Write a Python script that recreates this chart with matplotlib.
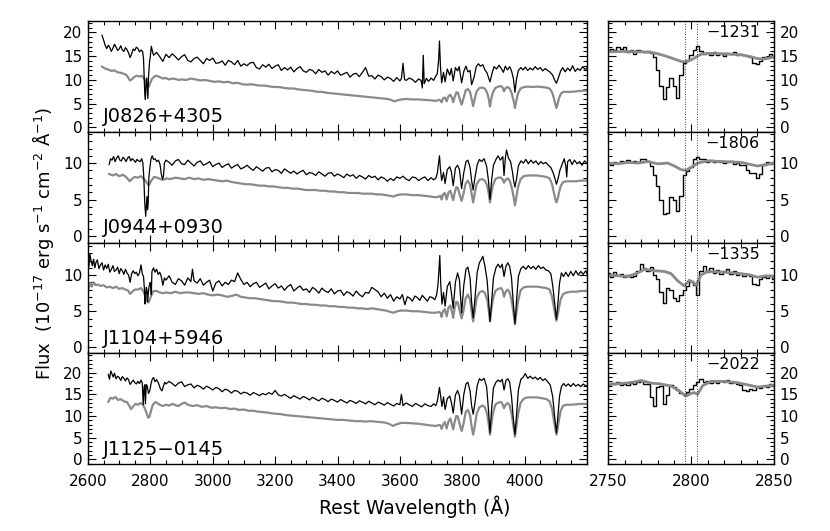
import numpy as np
import matplotlib
matplotlib.use("Agg")
import matplotlib.pyplot as plt
from matplotlib.ticker import MultipleLocator

# ---- object names and Mg II outflow velocities (km/s) ----
names = ["J0826+4305", "J0944+0930", "J1104+5946", "J1125\u22120145"]
velocities = ["\u22121231", "\u22121806", "\u22121335", "\u22122022"]
mg2_lines = [2796.35, 2803.53]

# ---- full spectra (wavelength, flux): observed = black, model = gray ----
obs1 = [(2645,19.4),(2650,18.4),(2655,17.3),(2660,16.6),(2665,17.3),(2670,16.8),(2675,16.0),(2680,16.7),(2685,17.5),(2690,16.9),(2695,16.2),(2700,16.5),(2705,17.2),(2710,16.3),(2715,16.0),(2720,16.8),(2725,16.4),(2730,15.7),(2735,14.7),(2740,15.5),(2745,16.5),(2750,16.2),(2755,16.9),(2760,16.6),(2765,15.9),(2770,16.3),(2775,16.0),(2778,14.5),(2780,11.0),(2782,7.2),(2784,5.9),(2786,9.0),(2788,10.4),(2790,8.2),(2792,6.1),(2794,10.5),(2797,13.6),(2800,15.1),(2803,17.1),(2806,16.2),(2810,15.2),
        (2820,15.8),(2830,14.9),(2840,13.9),(2850,15.4),(2860,14.7),(2870,15.5),(2880,14.9),(2890,14.2),(2900,14.9),(2910,15.3),(2920,14.1),(2930,13.8),(2940,14.5),(2950,14.8),(2960,14.1),(2970,13.4),(2980,14.5),(2990,14.1),(3000,14.6),(3010,13.5),(3020,13.6),(3030,14.0),(3040,13.1),(3050,14.1),(3060,13.8),(3070,13.2),(3080,14.1),(3090,12.9),(3100,13.4),(3110,13.0),(3120,13.6),(3130,13.7),(3140,12.6),(3150,12.3),(3160,13.2),(3170,12.7),(3180,13.3),(3190,12.4),(3200,12.9),(3210,13.2),(3220,12.0),(3230,12.6),(3240,12.1),(3250,12.7),(3260,11.7),(3270,12.4),(3280,12.8),(3290,11.9),(3300,11.6),(3310,12.2),(3320,12.0),(3330,11.3),(3340,12.2),(3350,11.6),(3360,11.9),(3370,11.0),(3380,11.8),(3390,11.3),(3400,11.9),(3410,11.0),(3420,11.3),(3430,11.6),(3440,10.6),(3450,11.2),(3460,11.4),(3470,10.7),(3480,11.6),(3490,12.6),(3500,10.8),(3510,10.9),(3520,10.2),(3530,11.0),(3540,10.7),(3550,10.0),(3560,10.6),(3570,10.3),(3580,9.7),(3590,10.5),(3600,9.8),(3605,10.3),(3610,13.5),(3615,10.1),(3620,9.9),(3630,10.4),(3640,10.1),(3650,9.5),(3660,10.2),(3668,9.9),(3672,8.3),(3675,15.2),(3678,9.2),(3685,10.3),(3692,9.7),(3700,10.4),(3708,9.9),(3715,10.8),(3720,11.3),(3724,14.0),(3727,18.2),(3730,13.0),(3734,9.4),(3740,11.6),(3745,9.6),(3752,12.3),(3760,11.0),(3765,12.4),(3771,9.8),(3778,12.6),(3785,11.9),(3790,12.8),(3798,9.4),(3805,11.8),(3812,12.9),(3818,11.7),(3825,12.0),(3830,9.0),(3838,10.6),(3845,12.8),(3852,13.4),(3858,12.9),(3866,13.2),(3872,12.2),(3880,11.4),(3885,10.3),(3889,9.6),(3895,11.3),(3902,12.8),(3910,12.3),(3918,13.1),(3925,12.4),(3932,11.6),(3938,12.9),(3945,12.1),(3952,12.8),(3958,11.9),(3964,10.3),(3969,7.4),(3974,10.2),(3980,12.0),(3988,12.6),(3995,12.1),(4002,12.7),(4010,12.0),(4018,12.5),(4026,12.1),(4034,12.8),(4042,12.2),(4050,12.6),(4058,11.9),(4066,12.4),(4074,12.0),(4082,11.6),(4090,11.0),(4096,10.0),(4102,9.3),(4108,10.4),(4115,11.8),(4122,12.6),(4130,11.7),(4138,12.5),(4146,11.9),(4154,13.0),(4162,11.8),(4170,12.4),(4178,12.0),(4186,12.8),(4194,12.2),(4200,12.5)]
mod1 = [(2645,12.8),(2655,12.4),(2665,12.2),(2675,11.9),(2685,12.0),(2695,11.6),(2705,11.5),(2715,11.3),(2722,11.1),(2728,10.6),(2734,9.9),(2740,10.1),(2748,10.6),(2756,10.9),(2765,10.7),(2772,10.9),(2780,10.3),(2786,9.4),(2791,8.7),(2795,8.6),(2799,9.3),(2805,10.2),(2812,10.7),(2820,10.9),(2830,10.6),(2840,10.3),(2850,10.4),(2860,10.1),(2870,10.3),(2880,10.2),(2890,10.0),(2900,10.1),(2915,10.0),(2930,10.3),(2945,10.1),(2960,9.9),(2975,10.0),(2990,9.8),(3005,9.6),(3020,9.7),(3035,9.5),(3050,9.6),(3065,9.3),(3080,9.4),(3095,9.1),(3110,9.0),(3125,9.1),(3140,8.9),(3155,8.8),(3170,8.8),(3185,8.6),(3200,8.5),(3215,8.5),(3230,8.3),(3245,8.2),(3260,8.2),(3275,8.0),(3290,7.9),(3305,7.8),(3320,7.7),(3335,7.5),(3350,7.5),(3365,7.3),(3380,7.2),(3395,7.1),(3410,7.0),(3425,6.9),(3440,6.8),(3455,6.7),(3470,6.6),(3485,6.5),(3500,6.4),(3515,6.3),(3530,6.2),(3545,6.1),(3560,6.0),(3572,5.8),(3582,5.5),(3592,5.7),(3605,5.9),(3620,6.0),(3640,5.9),(3660,5.9),(3680,5.8),(3700,5.7),(3715,5.6),(3725,5.8),
        (3730,5.7),(3734,5.3),(3738,6.1),(3744,6.3),(3750,5.5),(3756,6.6),(3762,6.9),(3767,6.2),(3771,5.3),(3775,6.3),(3781,7.4),(3786,7.3),(3792,6.0),(3798,4.8),(3804,6.1),(3811,7.8),(3818,8.1),(3825,7.5),(3830,6.0),(3835,4.5),(3840,6.0),(3846,7.6),(3855,8.3),(3864,8.4),(3872,8.2),(3880,7.3),(3885,6.0),(3889,4.4),(3893,6.0),(3898,7.3),(3906,8.3),(3915,8.6),(3925,8.7),(3930,8.3),(3934,7.6),(3939,8.3),(3946,8.5),(3952,8.2),(3959,7.1),(3964,5.8),(3969,4.1),(3974,5.8),(3979,7.2),(3987,8.2),(3997,8.5),(4010,8.6),(4025,8.5),(4040,8.6),(4055,8.5),(4070,8.4),(4080,8.2),(4088,7.4),(4094,6.1),(4098,5.0),(4102,4.1),(4106,5.0),(4110,6.1),(4116,7.1),(4124,7.5),(4135,7.5),(4150,7.5),(4165,7.6),(4180,7.7),(4200,7.8)]

obs2 = [(2668,9.8),(2672,10.6),(2677,10.4),(2682,10.9),(2687,10.2),(2692,10.7),(2697,11.0),(2702,10.4),(2707,10.3),(2712,10.8),(2717,10.6),(2722,10.2),(2727,10.7),(2732,10.9),(2737,10.3),(2742,10.6),(2747,10.4),(2752,10.1),(2757,10.5),(2762,10.3),(2767,10.2),(2772,10.6),(2776,10.0),(2779,8.0),(2782,4.5),(2785,2.7),(2787,4.0),(2789,5.4),(2791,3.6),(2793,4.5),(2795,8.0),(2798,9.2),(2802,10.6),(2806,11.0),(2810,10.5),(2815,10.6),(2820,10.2),(2826,10.4),(2831,9.8),(2835,8.5),(2839,7.8),(2842,8.2),(2845,10.0),
        (2850,10.4),(2860,10.1),(2870,9.7),(2880,10.3),(2890,10.5),(2900,9.9),(2910,9.8),(2920,10.4),(2930,10.0),(2940,9.6),(2950,10.1),(2960,10.3),(2970,9.7),(2980,9.9),(2990,10.2),(3000,9.5),(3010,9.8),(3020,10.0),(3030,9.4),(3040,9.7),(3050,9.9),(3060,9.3),(3070,9.6),(3080,9.8),(3090,9.2),(3100,9.4),(3110,9.7),(3120,9.3),(3130,9.0),(3140,9.5),(3150,9.2),(3160,8.9),(3170,9.3),(3180,9.4),(3190,8.8),(3200,9.1),(3210,9.0),(3220,8.6),(3230,9.2),(3240,8.9),(3250,8.6),(3260,8.9),(3270,8.5),(3280,8.8),(3290,9.0),(3300,8.4),(3310,8.7),(3320,8.6),(3330,8.3),(3340,8.8),(3350,8.5),(3360,8.2),(3370,8.6),(3380,8.7),(3390,8.2),(3400,8.5),(3410,8.3),(3420,8.0),(3430,8.5),(3440,8.2),(3450,8.4),(3460,7.9),(3470,8.3),(3480,8.1),(3490,7.8),(3500,8.3),(3510,8.0),(3520,8.2),(3530,7.7),(3540,8.1),(3550,7.9),(3560,7.5),(3570,7.9),(3580,7.6),(3590,8.1),(3600,7.9),(3610,8.2),(3620,7.8),(3630,7.6),(3640,8.1),(3650,8.0),(3660,7.6),(3670,7.9),(3680,8.1),(3690,7.6),(3700,8.0),(3708,7.7),(3715,7.9),(3720,8.6),(3724,10.0),(3727,11.0),(3730,9.2),(3734,7.6),(3740,8.7),(3745,7.2),(3752,9.1),(3760,9.5),(3765,8.8),(3771,6.9),(3778,9.3),(3785,9.7),(3791,9.1),(3798,6.5),(3805,8.7),(3812,10.2),(3818,10.4),(3825,9.4),(3830,7.6),(3835,6.3),(3840,7.8),(3848,9.8),(3855,10.5),(3862,10.2),(3870,10.6),(3878,9.6),(3884,7.6),(3889,5.0),(3894,7.6),(3900,9.7),(3908,10.5),(3915,11.0),(3922,10.4),(3930,10.9),(3934,8.3),(3938,10.6),(3942,11.8),(3948,10.7),(3955,10.2),(3961,8.8),(3965,7.5),(3969,6.7),(3974,7.8),(3980,9.6),(3988,10.3),(3996,10.0),(4004,10.5),(4012,9.9),(4020,10.4),(4028,10.0),(4036,10.3),(4044,9.8),(4052,10.2),(4060,9.9),(4068,10.1),(4076,9.7),(4084,9.4),(4092,8.6),(4097,7.9),(4102,7.1),(4107,7.8),(4113,9.0),(4120,9.8),(4127,10.6),(4132,9.6),(4135,8.1),(4138,10.2),(4145,10.5),(4152,9.8),(4160,10.4),(4168,9.9),(4176,10.2),(4184,9.7),(4192,10.3),(4200,10.0)]
mod2 = [(2668,8.5),(2680,8.3),(2690,8.5),(2700,8.2),(2712,8.4),(2722,8.1),(2728,7.8),(2734,7.5),(2740,7.8),(2750,8.1),(2760,8.0),(2770,8.2),(2780,7.8),(2787,7.4),(2793,7.0),(2797,7.1),(2803,7.6),(2812,8.1),(2822,8.0),(2832,7.8),(2842,7.7),(2852,7.9),(2865,7.8),(2880,8.0),(2895,7.9),(2910,7.8),(2925,8.0),(2940,7.8),(2955,7.9),(2970,7.7),(2985,7.8),(3000,7.7),(3015,7.6),(3030,7.5),(3045,7.6),(3060,7.4),(3075,7.3),(3090,7.2),(3105,7.1),(3120,7.1),(3135,7.0),(3150,6.9),(3165,6.9),(3180,6.8),(3195,6.8),(3210,6.7),(3225,6.6),(3240,6.6),(3255,6.5),(3270,6.5),(3285,6.4),(3300,6.3),(3315,6.3),(3330,6.3),(3345,6.2),(3360,6.2),(3375,6.1),(3390,6.1),(3405,6.0),(3420,6.0),(3435,5.9),(3450,5.9),(3465,5.9),(3480,5.8),(3495,5.8),(3510,5.8),(3525,5.7),(3540,5.7),(3555,5.6),(3570,5.5),(3580,5.4),(3590,5.6),(3605,5.7),(3620,5.7),(3640,5.6),(3660,5.6),(3680,5.5),(3700,5.4),(3715,5.3),(3725,5.4),
        (3730,5.5),(3734,5.0),(3738,5.7),(3744,5.9),(3750,5.0),(3756,6.0),(3762,6.2),(3767,5.5),(3771,4.9),(3775,5.8),(3781,6.7),(3786,6.6),(3792,5.6),(3798,4.8),(3804,5.8),(3811,7.2),(3818,7.6),(3825,7.0),(3830,5.8),(3835,4.6),(3840,5.8),(3846,7.1),(3855,7.7),(3864,7.8),(3872,7.6),(3880,6.9),(3885,5.8),(3889,4.6),(3893,5.8),(3898,6.9),(3906,7.8),(3915,8.0),(3925,8.0),(3930,7.7),(3934,7.3),(3939,7.7),(3946,7.9),(3952,7.6),(3959,6.6),(3964,5.5),(3969,4.2),(3974,5.5),(3979,6.7),(3987,7.8),(3997,8.2),(4010,8.3),(4025,8.3),(4040,8.3),(4055,8.2),(4070,8.1),(4080,7.9),(4088,7.1),(4094,5.9),(4098,5.1),(4102,4.6),(4106,5.1),(4110,5.9),(4116,6.9),(4124,7.4),(4135,7.5),(4150,7.5),(4165,7.5),(4180,7.6),(4200,7.6)]

obs3 = [(2600,12.6),(2603,11.2),(2606,12.9),(2610,11.9),(2614,11.3),(2618,12.2),(2622,11.0),(2626,11.8),(2630,12.1),(2635,10.9),(2640,11.4),(2645,11.7),(2650,10.7),(2655,11.4),(2660,10.9),(2665,11.5),(2670,10.4),(2675,10.8),(2680,11.3),(2685,10.5),(2690,10.7),(2695,11.1),(2700,10.2),(2705,10.9),(2710,10.6),(2715,10.1),(2720,10.8),(2725,10.3),(2730,10.0),(2735,9.0),(2740,10.2),(2745,10.6),(2750,10.2),(2755,10.4),(2760,9.9),(2765,10.3),(2770,11.4),(2774,10.2),(2778,9.8),(2781,8.0),(2783,6.0),(2785,7.4),(2787,8.3),(2789,8.0),(2791,6.3),(2793,7.3),(2796,8.5),(2799,9.0),(2801,8.6),(2803,7.3),(2805,10.5),(2810,11.0),(2815,10.4),(2820,10.8),(2825,10.1),(2830,10.4),(2835,9.8),(2840,8.6),(2845,9.6),
        (2850,9.3),(2860,9.9),(2870,9.0),(2880,8.7),(2890,9.5),(2900,9.2),(2910,8.6),(2920,9.6),(2930,9.1),(2935,10.8),(2940,9.2),(2950,8.9),(2960,9.5),(2970,8.6),(2980,9.0),(2990,9.3),(3000,7.8),(3010,8.9),(3020,9.2),(3030,8.5),(3040,9.0),(3050,8.7),(3060,9.3),(3070,9.1),(3080,10.3),(3090,9.4),(3100,8.7),(3110,9.0),(3120,8.4),(3130,8.8),(3140,9.0),(3150,8.3),(3160,8.6),(3170,8.9),(3180,8.1),(3190,8.5),(3200,8.8),(3210,8.2),(3220,8.5),(3230,7.9),(3240,8.4),(3250,8.7),(3260,7.8),(3270,8.2),(3280,8.5),(3290,7.9),(3300,8.1),(3310,7.6),(3320,8.3),(3330,8.0),(3340,7.5),(3350,8.2),(3360,7.8),(3370,7.6),(3380,8.1),(3390,7.4),(3400,7.8),(3410,7.9),(3420,7.2),(3430,7.7),(3440,7.5),(3450,7.1),(3460,7.8),(3470,7.3),(3480,7.0),(3490,7.6),(3500,7.5),(3510,8.3),(3520,8.0),(3530,7.7),(3540,7.0),(3550,7.5),(3560,6.8),(3570,7.3),(3580,6.4),(3590,7.0),(3600,6.7),(3608,7.3),(3616,5.9),(3624,7.0),(3632,6.8),(3640,6.4),(3648,7.1),(3656,6.9),(3664,6.5),(3672,7.2),(3680,6.8),(3688,6.4),(3696,7.0),(3704,6.9),(3712,6.6),(3718,7.3),(3722,8.6),(3725,10.5),(3728,12.7),(3731,8.8),(3735,6.0),(3740,7.6),(3745,5.7),(3752,8.4),(3760,9.1),(3765,7.6),(3771,5.4),(3778,9.0),(3785,10.3),(3791,9.3),(3798,4.8),(3805,8.6),(3812,10.8),(3818,11.1),(3825,9.6),(3830,6.3),(3835,4.1),(3840,6.4),(3848,10.4),(3855,11.7),(3862,12.2),(3866,12.6),(3872,11.4),(3880,9.2),(3885,6.0),(3889,3.6),(3894,6.2),(3900,9.6),(3908,11.0),(3915,11.5),(3922,11.0),(3928,11.5),(3934,9.8),(3940,11.2),(3946,11.7),(3952,11.2),(3958,9.6),(3963,6.5),(3969,3.3),(3974,6.4),(3980,9.8),(3988,10.9),(3996,11.2),(4004,10.8),(4012,11.3),(4020,10.9),(4028,11.2),(4036,10.8),(4044,11.3),(4052,10.9),(4060,11.1),(4068,10.7),(4076,10.6),(4084,10.2),(4090,8.6),(4096,6.2),(4102,3.9),(4107,6.3),(4112,8.9),(4118,10.3),(4125,9.8),(4132,10.4),(4140,9.8),(4148,10.5),(4156,9.9),(4164,10.6),(4172,10.0),(4180,10.5),(4188,10.1),(4196,10.6),(4200,10.2)]
mod3 = [(2600,7.8),(2606,8.9),(2612,8.4),(2618,9.0),(2625,8.6),(2632,8.7),(2640,8.5),(2650,8.6),(2660,8.3),(2670,8.4),(2680,8.2),(2690,8.4),(2700,8.1),(2710,8.2),(2720,8.0),(2728,7.9),(2735,7.4),(2742,7.7),(2750,8.0),(2760,8.0),(2770,8.2),(2778,7.7),(2784,7.0),(2790,6.4),(2794,6.2),(2798,6.6),(2803,7.2),(2810,7.8),(2820,7.8),(2830,7.6),(2840,7.5),(2850,7.6),(2865,7.5),(2880,7.7),(2895,7.5),(2910,7.6),(2925,7.6),(2940,7.5),(2955,7.4),(2970,7.5),(2985,7.3),(3000,7.2),(3015,7.3),(3030,7.2),(3045,7.0),(3060,7.1),(3075,7.3),(3090,7.0),(3105,6.9),(3120,6.8),(3135,6.8),(3150,6.7),(3165,6.6),(3180,6.5),(3195,6.4),(3210,6.4),(3225,6.3),(3240,6.2),(3255,6.2),(3270,6.1),(3285,6.0),(3300,6.0),(3315,5.9),(3330,5.9),(3345,5.8),(3360,5.8),(3375,5.7),(3390,5.7),(3405,5.6),(3420,5.6),(3435,5.5),(3450,5.5),(3465,5.4),(3480,5.4),(3495,5.3),(3510,5.4),(3525,5.3),(3540,5.2),(3555,5.1),(3570,4.9),(3580,4.8),(3592,5.0),(3605,5.1),(3620,5.1),(3640,5.0),(3660,5.0),(3680,4.9),(3700,4.8),(3715,4.8),(3725,4.9),
        (3730,4.8),(3734,4.2),(3738,5.0),(3744,5.3),(3750,4.3),(3756,5.5),(3762,5.8),(3767,4.9),(3771,4.1),(3775,5.3),(3781,6.3),(3786,6.2),(3792,5.0),(3798,4.0),(3804,5.1),(3811,6.8),(3818,7.3),(3825,6.6),(3830,5.0),(3835,3.6),(3840,5.0),(3846,6.8),(3855,7.6),(3864,7.8),(3872,7.6),(3880,6.6),(3885,5.1),(3889,3.6),(3893,5.1),(3898,6.6),(3906,7.8),(3915,8.1),(3925,8.2),(3930,7.8),(3934,7.0),(3939,7.7),(3946,8.0),(3952,7.6),(3959,6.3),(3964,4.9),(3969,3.2),(3974,4.9),(3979,6.4),(3987,7.9),(3997,8.3),(4010,8.4),(4025,8.4),(4040,8.4),(4055,8.3),(4070,8.2),(4080,8.0),(4088,7.0),(4094,5.5),(4098,4.5),(4102,3.7),(4106,4.5),(4110,5.5),(4116,6.7),(4124,7.4),(4135,7.6),(4150,7.7),(4165,7.7),(4180,7.8),(4200,7.8)]

obs4 = [(2665,19.6),(2669,18.5),(2673,20.4),(2677,19.7),(2681,19.0),(2685,19.9),(2690,18.6),(2695,19.2),(2700,18.9),(2705,18.2),(2710,19.1),(2715,18.7),(2720,18.1),(2725,18.8),(2730,18.4),(2735,17.3),(2740,17.8),(2745,18.3),(2750,17.7),(2755,17.4),(2760,18.0),(2765,17.5),(2770,18.3),(2774,17.6),(2777,12.6),(2780,16.8),(2782,17.2),(2784,12.8),(2787,17.3),(2790,16.9),(2794,15.2),(2798,15.8),(2802,17.4),(2806,18.5),(2810,18.9),(2815,17.9),(2820,18.4),(2826,17.6),(2832,16.3),(2837,15.8),(2842,16.9),(2846,17.8),
        (2850,17.4),(2860,18.0),(2870,17.5),(2880,16.9),(2890,17.6),(2900,17.9),(2910,16.8),(2920,17.2),(2930,17.4),(2940,16.5),(2950,17.1),(2960,16.8),(2970,16.2),(2980,16.9),(2990,16.5),(3000,16.0),(3010,16.6),(3020,16.3),(3030,15.6),(3040,16.2),(3050,15.9),(3060,15.3),(3070,15.9),(3080,15.7),(3090,15.1),(3100,15.5),(3110,15.3),(3120,14.8),(3130,15.4),(3140,15.1),(3150,14.7),(3160,15.2),(3170,14.9),(3180,15.4),(3190,15.0),(3200,15.9),(3210,14.9),(3220,14.6),(3230,15.0),(3240,14.5),(3250,14.1),(3260,14.7),(3270,14.3),(3280,13.9),(3290,14.5),(3300,14.2),(3310,13.7),(3320,14.3),(3330,13.9),(3340,13.5),(3350,14.1),(3360,13.8),(3370,13.3),(3380,13.9),(3390,13.6),(3400,13.2),(3410,13.8),(3420,13.4),(3430,13.0),(3440,13.6),(3450,13.3),(3460,12.9),(3470,13.5),(3480,13.2),(3490,12.8),(3500,13.4),(3510,13.0),(3520,12.6),(3530,13.2),(3540,12.9),(3550,12.5),(3560,13.1),(3570,12.7),(3580,12.3),(3590,12.9),(3600,12.6),(3605,15.0),(3610,12.4),(3620,13.0),(3630,12.6),(3640,12.2),(3650,12.9),(3660,12.5),(3670,12.1),(3680,12.8),(3690,12.4),(3700,12.2),(3708,12.8),(3715,12.4),(3720,13.4),(3724,15.3),(3727,16.6),(3731,14.3),(3735,12.2),(3740,14.4),(3745,11.5),(3752,14.0),(3760,14.6),(3765,13.2),(3771,10.7),(3778,14.8),(3785,15.9),(3791,14.7),(3798,10.4),(3805,15.0),(3812,17.4),(3818,17.8),(3825,15.8),(3830,12.4),(3835,10.4),(3840,12.6),(3848,17.0),(3855,18.6),(3862,18.2),(3870,18.7),(3878,16.8),(3884,11.5),(3889,6.1),(3894,11.4),(3900,16.5),(3908,17.8),(3915,18.3),(3922,17.9),(3928,18.5),(3934,16.0),(3940,18.2),(3946,18.6),(3952,17.8),(3958,14.5),(3963,10.0),(3969,5.7),(3974,10.2),(3980,16.0),(3988,18.5),(3996,19.0),(4002,19.8),(4010,18.7),(4018,19.2),(4026,18.6),(4034,19.0),(4042,18.4),(4050,18.9),(4058,18.2),(4066,18.6),(4074,17.9),(4082,17.2),(4090,14.5),(4096,10.0),(4102,6.1),(4107,10.2),(4112,14.6),(4118,16.8),(4125,17.5),(4132,16.9),(4140,17.4),(4148,16.8),(4156,17.5),(4164,16.9),(4172,17.3),(4180,16.8),(4188,17.4),(4196,16.9),(4200,17.1)]
mod4 = [(2665,13.3),(2672,14.2),(2680,14.0),(2688,14.4),(2696,13.7),(2705,13.9),(2715,13.4),(2725,13.2),(2732,12.4),(2738,11.6),(2745,12.2),(2752,12.8),(2760,12.6),(2768,13.0),(2776,12.6),(2782,11.8),(2788,10.6),(2793,9.6),(2797,9.8),(2802,11.2),(2808,12.6),(2815,13.2),(2822,13.0),(2830,12.6),(2840,12.3),(2850,12.6),(2860,12.4),(2870,12.8),(2880,12.5),(2890,12.3),(2900,12.8),(2910,13.1),(2920,12.6),(2935,12.3),(2950,12.5),(2965,12.1),(2980,12.3),(2995,11.9),(3010,12.0),(3025,11.8),(3040,11.9),(3055,11.6),(3070,11.7),(3085,11.4),(3100,11.5),(3115,11.2),(3130,11.2),(3145,11.0),(3160,10.9),(3175,10.8),(3190,10.6),(3205,10.5),(3220,10.4),(3235,10.2),(3250,10.1),(3265,10.0),(3280,9.9),(3295,9.8),(3310,9.7),(3325,9.6),(3340,9.5),(3355,9.4),(3370,9.3),(3385,9.2),(3400,9.1),(3415,9.1),(3430,9.0),(3445,8.9),(3460,8.8),(3475,8.8),(3490,8.7),(3505,8.8),(3520,8.7),(3535,8.6),(3550,8.5),(3565,8.2),(3578,7.7),(3590,8.1),(3605,8.4),(3620,8.4),(3640,8.3),(3660,8.2),(3680,8.0),(3700,7.8),(3715,7.7),(3725,7.9),
        (3730,7.8),(3734,7.0),(3738,8.0),(3744,8.6),(3750,7.1),(3756,8.8),(3762,9.4),(3767,8.0),(3771,6.9),(3775,8.4),(3781,10.0),(3786,9.9),(3792,8.0),(3798,6.5),(3804,8.2),(3811,10.9),(3818,11.4),(3825,10.2),(3830,7.6),(3835,5.7),(3840,7.6),(3846,10.5),(3855,12.0),(3864,12.4),(3872,12.1),(3880,10.4),(3885,8.0),(3889,5.7),(3893,8.0),(3898,10.4),(3906,12.6),(3915,13.1),(3925,13.2),(3930,12.6),(3934,11.8),(3939,12.6),(3946,13.0),(3952,12.4),(3959,10.2),(3964,7.8),(3969,5.2),(3974,7.8),(3979,10.4),(3987,13.0),(3997,14.0),(4010,14.3),(4025,14.3),(4040,14.3),(4055,14.1),(4070,13.9),(4080,13.4),(4088,11.6),(4094,9.0),(4098,7.2),(4102,5.7),(4106,7.2),(4110,9.0),(4116,11.3),(4124,12.4),(4135,12.6),(4150,12.6),(4165,12.7),(4180,12.8),(4200,12.8)]

# ---- Mg II zoom (2750-2850 A): observed binned flux every 2 A, model knots ----
zoom_wave = [2750,2752,2754,2756,2758,2760,2762,2764,2766,2768,2770,2772,2774,2776,2778,2780,2782,2784,2786,2788,2790,2792,2794,2796,2798,2800,2802,2804,2806,2808,2810,2812,2814,2816,2818,2820,2822,2824,2826,2828,2830,2832,2834,2836,2838,2840,2842,2844,2846,2848,2850]
zobs1 = [16.2,16.6,16.4,17.0,16.5,16.9,15.8,16.2,15.5,16.4,16.1,15.9,16.0,15.6,14.9,12.0,8.8,6.0,8.6,10.4,8.8,6.2,11.0,13.5,14.3,15.2,16.4,17.1,16.0,15.4,15.6,15.2,15.8,15.3,15.5,15.1,15.7,15.4,15.9,15.2,15.5,15.3,15.0,14.8,13.5,13.3,14.0,14.9,14.6,15.4,14.9]
zobs2 = [10.0,9.8,10.2,10.0,10.3,10.1,10.4,10.2,10.3,10.1,10.5,10.6,10.3,9.6,8.3,6.8,5.0,3.0,3.2,5.4,5.0,3.4,5.5,8.3,8.9,9.5,10.5,10.8,10.5,10.6,10.2,10.4,10.1,10.3,10.2,10.0,10.1,10.3,9.9,10.0,9.8,9.7,9.0,8.7,8.6,8.0,8.5,9.8,10.1,9.9,10.2]
zobs3 = [10.3,9.8,10.4,10.0,10.2,9.8,10.0,9.7,9.9,10.6,11.5,11.0,10.6,11.1,10.0,9.4,7.6,6.1,8.2,7.9,6.9,6.4,7.3,8.0,8.5,9.2,8.6,7.3,10.6,11.2,10.4,11.0,10.3,10.7,10.1,10.5,10.8,10.2,10.6,10.0,10.3,9.9,10.2,9.9,8.8,8.6,9.4,9.8,9.6,10.0,9.4]
zobs4 = [17.0,17.6,17.3,17.8,17.2,17.5,17.1,17.6,17.3,17.9,18.1,17.5,17.3,14.5,12.3,16.6,17.0,12.8,14.8,17.2,16.6,16.0,15.2,14.8,15.6,16.3,17.2,17.9,18.5,17.9,18.2,17.7,18.0,17.6,18.1,17.8,18.3,17.7,17.9,17.4,17.2,16.0,15.8,16.3,15.9,16.6,16.4,17.0,16.8,17.3,17.0]
zmod1 = [(2750,15.9),(2760,16.0),(2770,15.9),(2776,15.8),(2780,15.5),(2785,15.0),(2790,14.4),(2794,13.9),(2797,13.8),(2800,14.2),(2803,14.8),(2806,15.4),(2810,15.6),(2820,15.5),(2830,15.3),(2836,14.9),(2840,14.5),(2844,14.4),(2848,14.7),(2850,14.8)]
zmod2 = [(2750,10.0),(2756,9.9),(2762,10.1),(2768,10.0),(2774,10.2),(2780,9.9),(2786,10.0),(2790,9.6),(2794,9.1),(2797,9.0),(2800,9.4),(2804,10.0),(2810,10.3),(2820,10.2),(2830,10.1),(2836,9.8),(2840,9.6),(2845,9.8),(2850,10.0)]
zmod3 = [(2750,10.0),(2756,9.9),(2762,9.8),(2768,10.3),(2772,10.8),(2778,10.6),(2784,10.5),(2788,10.2),(2792,9.2),(2796,8.5),(2799,9.3),(2801,9.0),(2803,8.6),(2806,10.0),(2810,10.5),(2820,10.4),(2830,10.2),(2836,10.0),(2840,9.7),(2845,9.9),(2850,9.8)]
zmod4 = [(2750,17.3),(2758,17.5),(2765,17.8),(2770,18.2),(2776,17.6),(2782,17.4),(2788,16.9),(2793,15.8),(2797,14.6),(2800,15.2),(2802,15.4),(2804,15.0),(2807,17.0),(2812,18.0),(2820,18.0),(2828,17.7),(2834,17.2),(2840,16.7),(2845,16.9),(2850,17.1)]

observed = [obs1, obs2, obs3, obs4]
models = [mod1, mod2, mod3, mod4]
zoom_obs = [zobs1, zobs2, zobs3, zobs4]
zoom_mod = [zmod1, zmod2, zmod3, zmod4]
ylims = [(-0.9, 22.4), (-0.9, 14.3), (-0.8, 14.5), (-1.1, 24.5)]
yticks = [[0, 5, 10, 15, 20], [0, 5, 10], [0, 5, 10], [0, 5, 10, 15, 20]]
left_xticks = [2600, 2800, 3000, 3200, 3400, 3600, 3800, 4000]
right_xticks = [2750, 2800, 2850]

plt.rcParams["font.family"] = "DejaVu Sans"
fig = plt.figure(figsize=(8.3, 5.31), dpi=100)

W, H = 830.0, 531.0
row_h = 110.75
gray = "#8a8a8a"


def style_axis(ax, xt, xmin, yt, right_labels=False, bottom_labels=False):
    ax.set_xticks(xt)
    ax.xaxis.set_minor_locator(MultipleLocator(xmin))
    ax.set_yticks(yt)
    ax.yaxis.set_minor_locator(MultipleLocator(1))
    ax.tick_params(which="both", direction="in", top=True, right=True,
                   labelsize=11, width=0.8)
    ax.tick_params(which="major", length=6)
    ax.tick_params(which="minor", length=3)
    ax.tick_params(axis="y", pad=4)
    ax.tick_params(axis="x", pad=7)
    ax.tick_params(labelbottom=bottom_labels)
    if right_labels:
        ax.tick_params(labelleft=False, labelright=True)
    for s in ax.spines.values():
        s.set_linewidth(1.0)


for i in range(4):
    top = 21 + i * row_h
    y0 = 1 - (top + row_h) / H
    h = row_h / H
    last = i == 3

    # left: full spectrum
    ax = fig.add_axes([88 / W, y0, 499 / W, h])
    mw, mf = zip(*models[i])
    ow, of = zip(*observed[i])
    ax.plot(mw, mf, color=gray, lw=1.6)
    ax.plot(ow, of, color="black", lw=0.9)
    ax.set_xlim(2600, 4200)
    ax.set_ylim(*ylims[i])
    style_axis(ax, left_xticks, 50, yticks[i], bottom_labels=last)
    ax.text(0.03, 0.085, names[i], transform=ax.transAxes, fontsize=14,
            ha="left", va="baseline")

    # right: Mg II zoom
    axz = fig.add_axes([608 / W, y0, 166 / W, h])
    zw, zf = zip(*zoom_mod[i])
    axz.plot(zoom_wave, zoom_obs[i], color="black", lw=1.0, drawstyle="steps-mid")
    axz.plot(zw, zf, color=gray, lw=2.0)
    for lam in mg2_lines:
        axz.axvline(lam, color="black", lw=0.6, ls=(0, (1, 2)))
    axz.set_xlim(2750, 2850)
    axz.set_ylim(*ylims[i])
    style_axis(axz, right_xticks, 10, yticks[i], right_labels=True, bottom_labels=last)
    axz.text(0.915, 0.855, velocities[i], transform=axz.transAxes, fontsize=11.5,
             ha="right", va="baseline")

fig.text(0.5, 0.045, "Rest Wavelength (\u00c5)", ha="center", va="center",
         fontsize=13.5)
fig.text(0.052, 0.542,
         "Flux  (10$^{-17}$ erg s$^{-1}$ cm$^{-2}$ \u00c5$^{-1}$)",
         ha="center", va="center", rotation=90, fontsize=13)

fig.savefig("out.png", dpi=100)
